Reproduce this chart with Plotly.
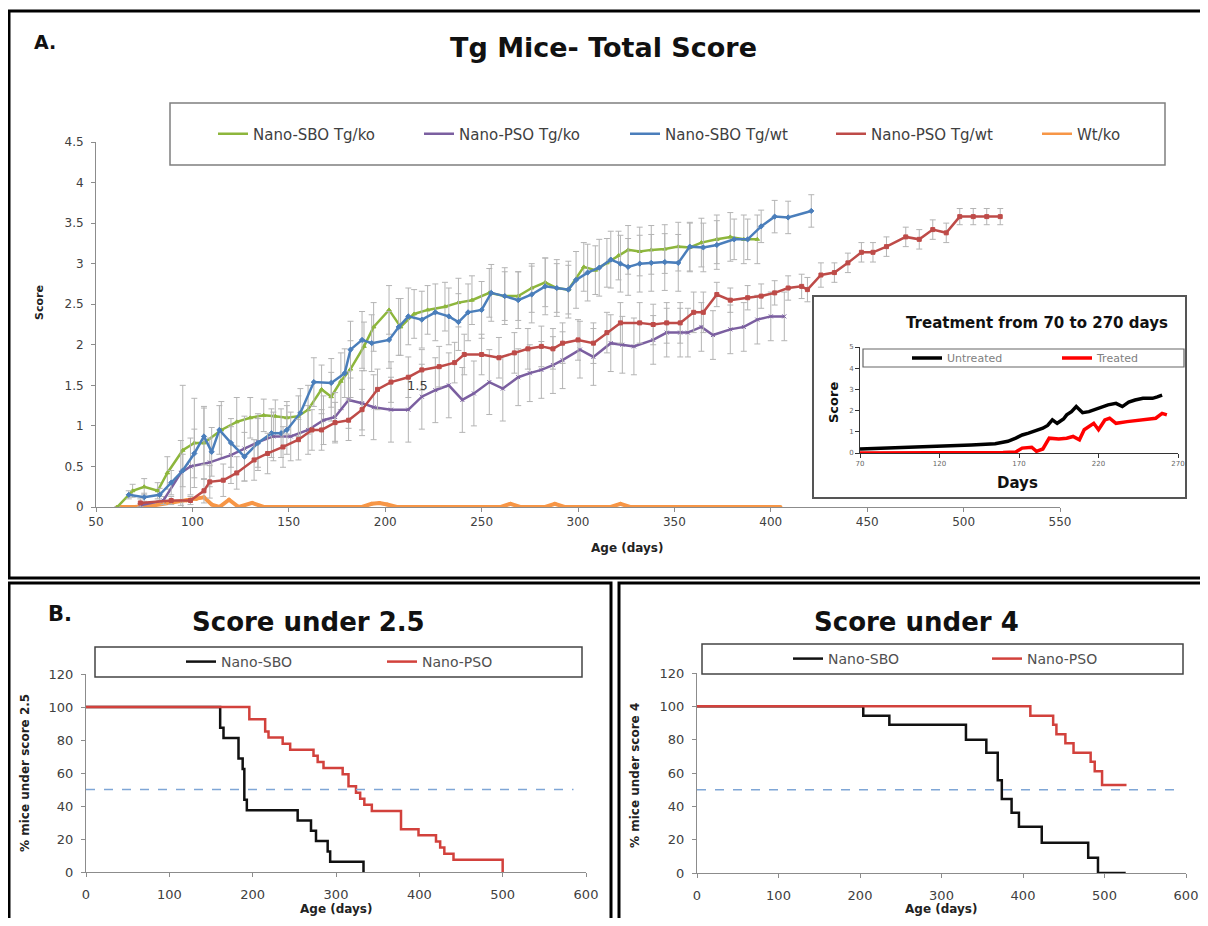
import plotly.graph_objects as go

# figure is 1192x910 so that with the page's 8px body margin it fills the 1208x926 window;
# positions below are written in window pixels and converted.
W, H = 1192, 910
OFF = 8
FONT = "DejaVu Sans"


def fx(p):
    return (p - OFF) / W


def fy(p):
    return 1 - (p - OFF) / H


# ---------------- Panel A data (Age in days, score) ----------------
sbo_ko_days = [61, 69, 75, 82, 87, 95, 101, 106, 115, 123, 130, 137, 143, 149, 155, 160, 167, 172, 177, 182,
               189, 194, 202, 208, 215, 222, 231, 238, 245, 254, 262, 269, 276, 283, 289, 295, 303, 309, 315, 321,
               326, 332, 338, 345, 352, 358, 364, 372, 379, 386, 393]
sbo_ko_score = [0, 0.2, 0.25, 0.2, 0.42, 0.7, 0.79, 0.79, 0.95, 1.05, 1.1, 1.13, 1.12, 1.1, 1.12, 1.2, 1.45, 1.36,
                1.55, 1.7, 1.98, 2.22, 2.43, 2.22, 2.38, 2.43, 2.47, 2.52, 2.55, 2.64, 2.6, 2.6, 2.7, 2.77, 2.7,
                2.68, 2.96, 2.92, 3.01, 3.1, 3.17, 3.15, 3.17, 3.18, 3.21, 3.2, 3.26, 3.3, 3.33, 3.3, 3.3]
sbo_ko_err = [0, 0.08, 0.1, 0.1, 0.2, 0.8, 0.55, 0.45, 0.35, 0.3, 0.25, 0.2, 0.2, 0.2, 0.25, 0.3, 0.3, 0.3, 0.35,
              0.35, 0.3, 0.3, 0.3, 0.35, 0.3, 0.3, 0.3, 0.3, 0.3, 0.3, 0.3, 0.3, 0.3, 0.3, 0.3, 0.3, 0.3, 0.3, 0.3,
              0.3, 0.3, 0.3, 0.3, 0.3, 0.3, 0.3, 0.3, 0.3, 0.3, 0.3, 0.3]

pso_ko_days = [73, 85, 94, 99, 109, 120, 127, 134, 142, 151, 160, 168, 174, 181, 188, 194, 203, 212, 219, 226,
               233, 240, 246, 254, 261, 269, 275, 281, 287, 292, 301, 308, 317, 323, 329, 339, 346, 353, 357, 364,
               370, 379, 386, 393, 400, 407]
pso_ko_score = [0.02, 0.08, 0.42, 0.5, 0.55, 0.64, 0.72, 0.8, 0.87, 0.87, 0.95, 1.07, 1.11, 1.32, 1.28, 1.23, 1.2,
                1.2, 1.36, 1.44, 1.5, 1.32, 1.4, 1.54, 1.46, 1.6, 1.65, 1.69, 1.75, 1.81, 1.94, 1.85, 2.02, 2.0,
                1.98, 2.06, 2.15, 2.15, 2.15, 2.22, 2.12, 2.19, 2.22, 2.31, 2.35, 2.35]
pso_ko_err = [0.02, 0.05, 0.4, 0.35, 0.3, 0.35, 0.4, 0.35, 0.3, 0.3, 0.3, 0.3, 0.3, 0.35, 0.4, 0.4, 0.4, 0.4, 0.4,
              0.4, 0.4, 0.4, 0.4, 0.4, 0.4, 0.35, 0.35, 0.35, 0.35, 0.35, 0.35, 0.35, 0.35, 0.35, 0.35, 0.3, 0.3,
              0.3, 0.3, 0.3, 0.3, 0.3, 0.3, 0.3, 0.3, 0.3]

sbo_wt_days = [67, 75, 83, 89, 95, 101, 106, 110, 114, 120, 127, 134, 141, 146, 149, 156, 163, 172, 179, 182,
               188, 193, 202, 207, 212, 219, 226, 233, 238, 243, 250, 255, 262, 269, 276, 283, 289, 295, 299, 305,
               311, 317, 322, 326, 332, 338, 345, 352, 358, 365, 372, 381, 388, 395, 402, 409, 421]
sbo_wt_score = [0.15, 0.12, 0.15, 0.3, 0.45, 0.66, 0.87, 0.68, 0.95, 0.79, 0.62, 0.79, 0.91, 0.91, 0.95, 1.16,
                1.54, 1.53, 1.65, 1.94, 2.06, 2.02, 2.06, 2.22, 2.35, 2.31, 2.4, 2.35, 2.28, 2.4, 2.43, 2.64, 2.6,
                2.55, 2.62, 2.72, 2.7, 2.68, 2.8, 2.89, 2.95, 3.05, 3.0, 2.96, 3.0, 3.01, 3.02, 3.01, 3.21, 3.2,
                3.23, 3.3, 3.3, 3.46, 3.58, 3.57, 3.65]
sbo_wt_err = [0.05, 0.05, 0.08, 0.15, 0.2, 0.3, 0.35, 0.3, 0.3, 0.3, 0.3, 0.3, 0.3, 0.3, 0.3, 0.3, 0.3, 0.3, 0.3,
              0.35, 0.35, 0.35, 0.35, 0.35, 0.35, 0.35, 0.35, 0.35, 0.35, 0.35, 0.35, 0.35, 0.35, 0.35, 0.35, 0.35,
              0.35, 0.35, 0.35, 0.35, 0.35, 0.35, 0.35, 0.35, 0.35, 0.35, 0.35, 0.35, 0.3, 0.3, 0.3, 0.25, 0.25,
              0.2, 0.2, 0.2, 0.2]

pso_wt_days = [73, 89, 99, 106, 109, 116, 123, 132, 139, 147, 155, 162, 167, 174, 181, 188, 196, 203, 212, 219,
               228, 236, 241, 250, 259, 267, 274, 281, 287, 292, 300, 308, 315, 322, 332, 339, 346, 353, 360, 365,
               372, 379, 388, 395, 402, 409, 416, 419, 426, 433, 440, 447, 453, 460, 470, 477, 484, 491, 498, 505,
               512, 519]
pso_wt_score = [0.05, 0.08, 0.08, 0.2, 0.31, 0.33, 0.42, 0.58, 0.66, 0.74, 0.83, 0.95, 0.95, 1.04, 1.07, 1.2, 1.45,
                1.54, 1.6, 1.69, 1.73, 1.78, 1.88, 1.88, 1.84, 1.9, 1.95, 1.98, 1.95, 2.02, 2.06, 2.02, 2.15, 2.27,
                2.27, 2.25, 2.27, 2.27, 2.4, 2.4, 2.62, 2.55, 2.58, 2.6, 2.64, 2.7, 2.72, 2.68, 2.86, 2.89, 3.01,
                3.14, 3.14, 3.21, 3.33, 3.3, 3.42, 3.38, 3.58, 3.58, 3.58, 3.58]
pso_wt_err = [0.05, 0.05, 0.05, 0.15, 0.2, 0.2, 0.2, 0.25, 0.25, 0.25, 0.25, 0.25, 0.25, 0.25, 0.25, 0.25, 0.25,
              0.25, 0.25, 0.25, 0.25, 0.25, 0.25, 0.25, 0.25, 0.25, 0.25, 0.25, 0.25, 0.25, 0.25, 0.25, 0.25, 0.25,
              0.25, 0.25, 0.25, 0.25, 0.25, 0.25, 0.15, 0.15, 0.15, 0.15, 0.15, 0.15, 0.15, 0.15, 0.15, 0.12,
              0.12, 0.12, 0.12, 0.12, 0.12, 0.12, 0.12, 0.12, 0.1, 0.1, 0.1, 0.1]

wt_ko_days = [61, 70, 80, 90, 97, 102, 106, 110, 114, 119, 124, 131, 137, 150, 170, 188, 193, 197, 201, 206, 230,
              260, 265, 270, 283, 288, 293, 317, 322, 327, 360, 405]
wt_ko_score = [0, 0, 0.02, 0.06, 0.08, 0.1, 0.12, 0.03, 0, 0.09, 0, 0.05, 0, 0, 0, 0, 0.04, 0.05, 0.03, 0, 0, 0,
               0.04, 0, 0, 0.04, 0, 0, 0.04, 0, 0, 0]

x_ticks_a = [50, 100, 150, 200, 250, 300, 350, 400, 450, 500, 550]

# ---------------- Inset data ----------------
untreated_days = [70, 95, 117, 140, 155, 163, 168, 172, 176, 180, 185, 188, 191, 194, 198, 200, 203, 206, 210, 214,
                  217, 222, 226, 231, 235, 239, 243, 248, 254, 257, 260]
untreated_score = [0.19, 0.25, 0.31, 0.38, 0.44, 0.55, 0.7, 0.85, 0.94, 1.05, 1.17, 1.3, 1.56, 1.4, 1.6, 1.8, 1.95,
                   2.19, 1.9, 1.95, 2.03, 2.15, 2.27, 2.34, 2.19, 2.4, 2.5, 2.58, 2.58, 2.65, 2.73]
treated_days = [70, 120, 160, 168, 172, 178, 181, 185, 189, 195, 200, 204, 208, 211, 214, 217, 220, 224, 227, 231,
                238, 246, 253, 256, 260, 263]
treated_score = [0, 0, 0.02, 0.05, 0.23, 0.27, 0.08, 0.19, 0.7, 0.66, 0.7, 0.78, 0.62, 1.1, 1.25, 1.4, 1.1, 1.56,
                 1.64, 1.4, 1.48, 1.56, 1.6, 1.64, 1.87, 1.8]
inset_x_ticks = [70, 120, 170, 220, 270]

# ---------------- Panel B data (Kaplan-Meier style steps) ----------------
sbo_u25_days = [0, 161, 165, 183, 188, 190, 193, 254, 270, 276, 290, 293, 333]
sbo_u25_pct = [100, 87.5, 81.25, 68.75, 62.5, 43.75, 37.5, 31.25, 25, 18.75, 12.5, 6.25, 0]
pso_u25_days = [0, 196, 215, 219, 236, 245, 273, 278, 285, 308, 315, 324, 329, 334, 343, 378, 399, 420, 425, 430,
                441, 500]
pso_u25_pct = [100, 92.6, 85.2, 81.5, 77.8, 74.1, 70.4, 66.7, 63, 59.3, 51.9, 48.1, 44.4, 40.7, 37, 25.9, 22.2,
               18.5, 14.8, 11.1, 7.4, 0]

sbo_u4_days = [0, 204, 236, 330, 355, 369, 374, 386, 395, 423, 480, 492, 526]
sbo_u4_pct = [100, 94.4, 88.9, 80, 72.2, 55.6, 44.4, 36.1, 27.8, 18.2, 9.1, 0, 0]
pso_u4_days = [0, 409, 437, 441, 452, 462, 483, 488, 497, 527]
pso_u4_pct = [100, 94.4, 88.9, 83.3, 77.8, 72.2, 66.7, 61.1, 52.8, 52.8]

half_level = 50
half_line_end_25 = 585
half_line_end_4 = 592

# ---------------- colours ----------------
C_GREEN = "#8DB63C"
C_PURPLE = "#7B5FA0"
C_BLUE = "#4A7EBB"
C_RED = "#BE4B48"
C_ORANGE = "#F79646"
C_ERR = "#B4B4B4"
C_B_RED = "#D2413C"

fig = go.Figure()

series_a = [
    ("Nano-SBO Tg/ko", sbo_ko_days, sbo_ko_score, sbo_ko_err, C_GREEN, "triangle-up"),
    ("Nano-PSO Tg/ko", pso_ko_days, pso_ko_score, pso_ko_err, C_PURPLE, "x-thin-open"),
    ("Nano-SBO Tg/wt", sbo_wt_days, sbo_wt_score, sbo_wt_err, C_BLUE, "diamond"),
    ("Nano-PSO Tg/wt", pso_wt_days, pso_wt_score, pso_wt_err, C_RED, "square"),
]

fig.add_trace(go.Scatter(
    x=wt_ko_days, y=wt_ko_score, mode="lines+markers", xaxis="x", yaxis="y",
    line=dict(color=C_ORANGE, width=4), marker=dict(size=4, color=C_ORANGE),
    showlegend=False, hoverinfo="skip"))

for name, d, s, e, col, sym in series_a:
    fig.add_trace(go.Scatter(
        x=d, y=s, mode="lines+markers", xaxis="x", yaxis="y",
        line=dict(color=col, width=2.5),
        marker=dict(size=4, color=col, symbol=sym, line=dict(color=col, width=1)),
        error_y=dict(type="data", array=e, color=C_ERR, thickness=1, width=3),
        showlegend=False, hoverinfo="skip"))

legend_a_entries = [("Nano-SBO Tg/ko", C_GREEN), ("Nano-PSO Tg/ko", C_PURPLE), ("Nano-SBO Tg/wt", C_BLUE),
                    ("Nano-PSO Tg/wt", C_RED), ("Wt/ko", C_ORANGE)]
for i, (name, col) in enumerate(legend_a_entries):
    fig.add_trace(go.Scatter(x=[None], y=[None], mode="lines", name=name, xaxis="x", yaxis="y",
                             line=dict(color=col, width=2.5), legend="legend",
                             legendwidth=(60 if i == len(legend_a_entries) - 1 else None)))

fig.add_trace(go.Scatter(x=untreated_days, y=untreated_score, mode="lines", name="Untreated",
                         xaxis="x2", yaxis="y2", line=dict(color="#000000", width=3.5), legend="legend2"))
fig.add_trace(go.Scatter(x=treated_days, y=treated_score, mode="lines", name="Treated",
                         xaxis="x2", yaxis="y2", line=dict(color="#FF0000", width=3.5), legend="legend2",
                         legendwidth=60))

fig.add_trace(go.Scatter(x=sbo_u25_days, y=sbo_u25_pct, mode="lines", name="Nano-SBO", line_shape="hv",
                         xaxis="x3", yaxis="y3", line=dict(color="#111111", width=2.5), legend="legend3"))
fig.add_trace(go.Scatter(x=pso_u25_days, y=pso_u25_pct, mode="lines", name="Nano-PSO", line_shape="hv",
                         xaxis="x3", yaxis="y3", line=dict(color=C_B_RED, width=2.5), legend="legend3"))
fig.add_trace(go.Scatter(x=sbo_u4_days, y=sbo_u4_pct, mode="lines", name="Nano-SBO", line_shape="hv",
                         xaxis="x4", yaxis="y4", line=dict(color="#111111", width=2.5), legend="legend4"))
fig.add_trace(go.Scatter(x=pso_u4_days, y=pso_u4_pct, mode="lines", name="Nano-PSO", line_shape="hv",
                         xaxis="x4", yaxis="y4", line=dict(color=C_B_RED, width=2.5), legend="legend4"))

AX_LINE = "#8c8c8c"
TICK_FONT = dict(family=FONT, size=12, color="#404040")


def axis(**kw):
    base = dict(showgrid=False, zeroline=False, showline=True, linecolor=AX_LINE, linewidth=1,
                ticks="outside", ticklen=4, tickcolor=AX_LINE, tickfont=TICK_FONT, fixedrange=True,
                automargin=False, ticklabeloverflow="allow")
    base.update(kw)
    return base


legend_common = dict(orientation="h", xanchor="left", yanchor="middle", bgcolor="rgba(0,0,0,0)",
                     borderwidth=0, entrywidthmode="pixels", traceorder="normal", xref="container",
                     yref="container")


def lx(p):
    return (p - OFF) / W


B_TICK_FONT = dict(family=FONT, size=13, color="#404040")

fig.update_layout(
    width=W, height=H, margin=dict(l=0, r=0, t=0, b=0, autoexpand=False),
    paper_bgcolor="white", plot_bgcolor="rgba(0,0,0,0)",
    font=dict(family=FONT, color="#404040"),
    xaxis=axis(domain=[fx(96), fx(1060)], range=[50, 550], tickvals=x_ticks_a, anchor="y"),
    yaxis=axis(domain=[fy(507), fy(142)], range=[0, 4.5], dtick=0.5, anchor="x", ticklabelstandoff=5),
    xaxis2=axis(domain=[fx(860), fx(1178)], range=[70, 270], tickvals=inset_x_ticks, anchor="y2",
                linecolor="#333333", tickcolor="#333333", tickfont=dict(family=FONT, size=7, color="#666666")),
    yaxis2=axis(domain=[fy(453), fy(347)], range=[0, 5], dtick=1, anchor="x2",
                linecolor="#333333", tickcolor="#333333", tickfont=dict(family=FONT, size=7, color="#666666")),
    xaxis3=axis(domain=[fx(86), fx(586)], range=[0, 600], dtick=100, anchor="y3", ticklabelstandoff=6,
                tickfont=B_TICK_FONT),
    yaxis3=axis(domain=[fy(872), fy(674)], range=[0, 120], dtick=20, anchor="x3", ticklabelstandoff=5,
                tickfont=B_TICK_FONT),
    xaxis4=axis(domain=[fx(697), fx(1186)], range=[0, 600], dtick=100, anchor="y4", ticklabelstandoff=6,
                tickfont=B_TICK_FONT),
    yaxis4=axis(domain=[fy(873), fy(673)], range=[0, 120], dtick=20, anchor="x4", ticklabelstandoff=5,
                tickfont=B_TICK_FONT),
    legend=dict(legend_common, x=lx(213), y=fy(134), entrywidth=161,
                font=dict(family=FONT, size=15, color="#404040")),
    legend2=dict(legend_common, x=lx(907), y=fy(358), entrywidth=105,
                 font=dict(family=FONT, size=11, color="#808080")),
    legend3=dict(legend_common, x=lx(181), y=fy(662), entrywidth=156,
                 font=dict(family=FONT, size=14, color="#505050")),
    legend4=dict(legend_common, x=lx(788), y=fy(659), entrywidth=154,
                 font=dict(family=FONT, size=14, color="#505050")),
)


def rect(x0, y0, x1, y1, color="#000000", width=3, fill="rgba(0,0,0,0)"):
    return dict(type="rect", xref="paper", yref="paper", x0=fx(x0), x1=fx(x1), y0=fy(y0), y1=fy(y1),
                line=dict(color=color, width=width), fillcolor=fill, layer="below")


shapes = [
    rect(9, 11, 1203, 578),
    rect(9, 583, 611, 929),
    rect(619, 583, 1205, 929),
    rect(170, 103, 1165, 165, color="#7f7f7f", width=1.5),
    rect(813, 296, 1186, 498, color="#555555", width=2, fill="white"),
    rect(863, 349, 1184, 367, color="#666666", width=1.2),
    rect(95, 647, 582, 677, color="#444444", width=1.5),
    rect(702, 644, 1183, 674, color="#444444", width=1.5),
    dict(type="line", xref="x3", yref="y3", x0=0, x1=half_line_end_25, y0=half_level, y1=half_level,
         line=dict(color="#7FA6D6", width=1.5, dash="dash")),
    dict(type="line", xref="x4", yref="y4", x0=0, x1=half_line_end_4, y0=half_level, y1=half_level,
         line=dict(color="#7FA6D6", width=1.5, dash="dash")),
]
fig.update_layout(shapes=shapes)


def ann(text, x, y, size, bold=True, angle=0, color="#111111", xref="paper", yref="paper"):
    t = f"<b>{text}</b>" if bold else text
    if xref == "paper":
        x = fx(x)
        y = fy(y)
    return dict(text=t, x=x, y=y, xref=xref, yref=yref, showarrow=False, xanchor="center", yanchor="middle",
                textangle=angle, font=dict(family=FONT, size=size, color=color))


annotations = [
    ann("A.", 45, 42, 19),
    ann("Tg Mice- Total Score", 603, 48, 27),
    ann("Score", 40, 303, 11, angle=-90, color="#222222"),
    ann("Age (days)", 627, 548, 12, color="#222222"),
    ann("1.5", 217, 1.5, 13, bold=False, color="#404040", xref="x", yref="y"),
    ann("Treatment from 70 to 270 days", 1037, 323, 15),
    ann("Score", 833, 403, 13, angle=-90),
    ann("Days", 1017, 483, 15),
    ann("B.", 60, 614, 21),
    ann("Score under 2.5", 308, 622, 26),
    ann("Score under 4", 916, 622, 26),
    ann("% mice under score 2.5", 25, 773, 12, angle=-90, color="#222222"),
    ann("Age (days)", 336, 909, 12, color="#222222"),
    ann("% mice under score 4", 635, 775, 12, angle=-90, color="#222222"),
    ann("Age (days)", 941, 909, 12, color="#222222"),
]
fig.update_layout(annotations=annotations)

fig.write_html("out.html")
